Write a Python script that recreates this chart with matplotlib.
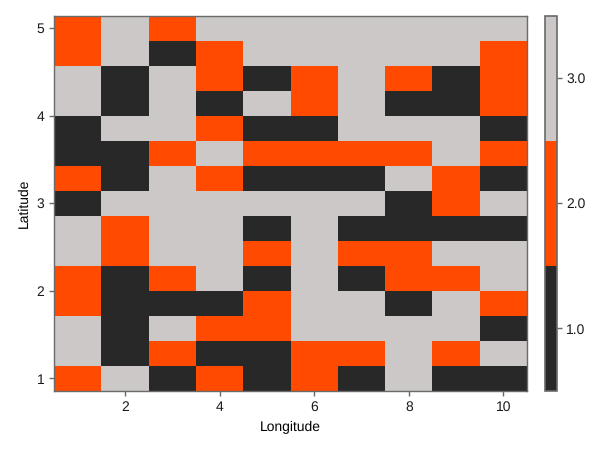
import numpy as np
import matplotlib.pyplot as plt
from matplotlib.colors import ListedColormap, BoundaryNorm

plt.rcParams['font.family'] = ['Liberation Sans', 'DejaVu Sans']
plt.rcParams['text.hinting'] = 'none'

longitude = [1, 2, 3, 4, 5, 6, 7, 8, 9, 10]
latitude = [1.0, 1.2857, 1.5714, 1.8571, 2.1429, 2.4286, 2.7143, 3.0,
            3.2857, 3.5714, 3.8571, 4.1429, 4.4286, 4.7143, 5.0]

# rows go from the bottom of the map to the top
classes = [
    [2, 3, 1, 2, 1, 2, 1, 3, 1, 1],
    [3, 1, 2, 1, 1, 2, 2, 3, 2, 3],
    [3, 1, 3, 2, 2, 3, 3, 3, 3, 1],
    [2, 1, 1, 1, 2, 3, 3, 1, 3, 2],
    [2, 1, 2, 3, 1, 3, 1, 2, 2, 3],
    [3, 2, 3, 3, 2, 3, 2, 2, 3, 3],
    [3, 2, 3, 3, 1, 3, 1, 1, 1, 1],
    [1, 3, 3, 3, 3, 3, 3, 1, 2, 3],
    [2, 1, 3, 2, 1, 1, 1, 3, 2, 1],
    [1, 1, 2, 3, 2, 2, 2, 2, 3, 2],
    [1, 3, 3, 2, 1, 1, 3, 3, 3, 1],
    [3, 1, 3, 1, 3, 2, 3, 1, 1, 2],
    [3, 1, 3, 2, 1, 2, 3, 2, 1, 2],
    [2, 3, 1, 2, 3, 3, 3, 3, 3, 2],
    [2, 3, 2, 3, 3, 3, 3, 3, 3, 3],
]

class_colors = ['#292828', '#ff4a00', '#ccc8c8']
class_ticks = [1, 2, 3]

EDGE = '#6a6a6a'

cmap = ListedColormap(class_colors)
norm = BoundaryNorm([0.5, 1.5, 2.5, 3.5], 3)

fig = plt.figure(figsize=(6, 4.5), dpi=100)
ax = fig.add_axes([54 / 600, 1 - 391 / 450, 473 / 600, 375.5 / 450])
cax = fig.add_axes([544.5 / 600, 1 - 391 / 450, 12.5 / 600, 375.5 / 450])

mesh = ax.pcolormesh(longitude, latitude, np.array(classes), cmap=cmap, norm=norm,
                     shading='nearest', rasterized=True)
ax.set_xticks([2, 4, 6, 8, 10])
ax.set_yticks([1, 2, 3, 4, 5])
ax.set_xlabel('Longitude', fontsize=10, labelpad=5)
ax.set_ylabel('Latitude', fontsize=10, labelpad=4.5)
ax.tick_params(length=3.5, width=1, color=EDGE, labelsize=10, labelcolor='#1a1a1a', pad=3.5)
for spine in ax.spines.values():
    spine.set_color(EDGE)
    spine.set_linewidth(1)

cbar = fig.colorbar(mesh, cax=cax, ticks=class_ticks, format='%.1f')
cbar.ax.minorticks_off()
cbar.ax.tick_params(length=3.5, width=1, color=EDGE, labelsize=10, labelcolor='#1a1a1a', pad=3)
cbar.outline.set_edgecolor(EDGE)
cbar.outline.set_linewidth(1.2)

fig.savefig('out.png', dpi=100)
